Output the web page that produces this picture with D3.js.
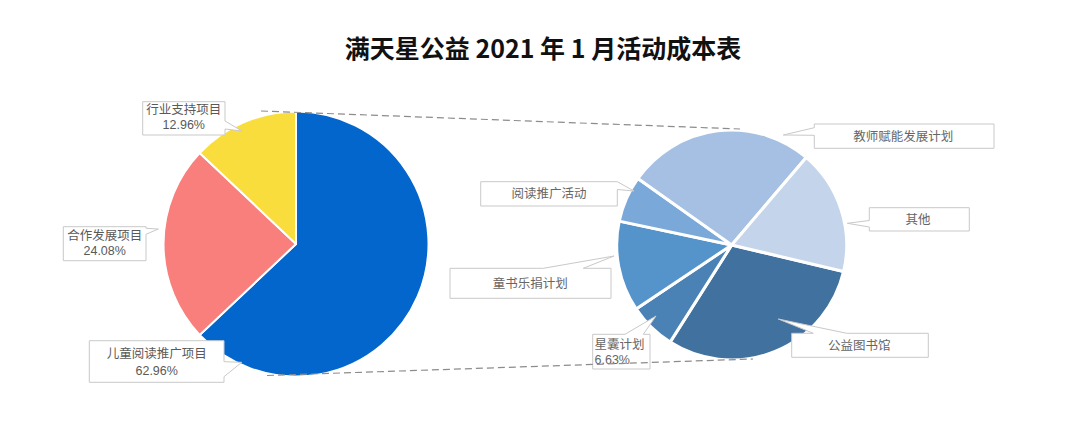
<!DOCTYPE html>
<html><head><meta charset="utf-8">
<script src="https://cdn.jsdelivr.net/npm/d3@7/dist/d3.min.js"></script>
<style>
body{margin:0;background:#fff;}
text{font-family:"Noto Sans CJK SC","Noto Sans",sans-serif;}
text.lbl{font-family:"Liberation Sans","Noto Sans CJK SC",sans-serif;}
</style></head>
<body>
<svg id="c" width="1075" height="426"></svg>
<script>
// ---- data ----
const title = '满天星公益 2021 年 1 月活动成本表';
const mainCategories = ['儿童阅读推广项目', '合作发展项目', '行业支持项目'];
const mainValues = [62.96, 24.08, 12.96];
const subCategories = ['公益图书馆', '星囊计划', '童书乐捐计划', '阅读推广活动', '教师赋能发展计划', '其他'];
const subValues = [30.3, 6.63, 12.7, 6.5, 26.4, 17.47];
const subShowPercent = ['星囊计划'];

// ---- styles / layout ----
const mainColors = ['#0366cd', '#f87f7c', '#f9dd3c'];
const subColors = ['#41719f', '#4a82b6', '#5594cb', '#7aa8d9', '#a5c0e3', '#c4d5eb'];
const mainPie = {cx: 296, cy: 244, r: 132.5, start: 0};
const subPie = {cx: 731.7, cy: 245, r: 115, start: 103.3};

const mainLabelLayout = {
  '行业支持项目': {box: [142.7, 101.7, 82.3, 33.3], side: 'right', base: [121, 129], tip: [242, 131], tx: 183.8, ty: [110, 125], anchor: 'middle'},
  '合作发展项目': {box: [63.3, 226.7, 82.7, 34], side: 'right', base: [228.3, 234.3], tip: [158.3, 229], tx: 104.7, ty: [235.7, 250.5], anchor: 'middle'},
  '儿童阅读推广项目': {box: [89.3, 340.7, 134.7, 41.6], side: 'right', base: [361.7, 376.7], tip: [241.7, 362.3], tx: 156.7, ty: [353.3, 370.7], anchor: 'middle'}
};
const subLabelLayout = {
  '阅读推广活动': {box: [480.7, 181.7, 136.6, 24.3], side: 'right', base: [181.7, 189.5], tip: [634, 191], tx: 549, ty: [194], anchor: 'middle'},
  '童书乐捐计划': {box: [450, 268.3, 161, 30], side: 'top', base: [543.3, 583.3], tip: [614, 256], tx: 530.3, ty: [283.3], anchor: 'middle'},
  '星囊计划': {box: [592.7, 334.3, 57.3, 34.7], side: 'top', base: [625, 643.3], tip: [656, 316], tx: 594.5, ty: [344.3, 360], anchor: 'start'},
  '公益图书馆': {box: [791.7, 333.3, 136.6, 24], side: 'top', base: [813.3, 846.7], tip: [778.3, 319], tx: 859.3, ty: [346], anchor: 'middle'},
  '其他': {box: [869.3, 207.7, 100, 23.3], side: 'left', base: [220.5, 227], tip: [847.3, 223.3], tx: 918, ty: [219.3], anchor: 'middle'},
  '教师赋能发展计划': {box: [814.3, 124, 179.7, 24.3], side: 'left', base: [127.7, 135.3], tip: [783.3, 135], tx: 903.3, ty: [136.7], anchor: 'middle'}
};
const connectors = [[[261, 111], [740, 129]], [[267, 375.5], [753, 359]]];

const svg = d3.select('#c');
const deg = Math.PI / 180;

function drawPie(cfg, cats, vals, colors, strokeW) {
  const pie = d3.pie().sort(null).value(d => d.v)
    .startAngle(cfg.start * deg).endAngle(cfg.start * deg + 2 * Math.PI);
  const arc = d3.arc().innerRadius(0).outerRadius(cfg.r);
  const data = cats.map((c, i) => ({c, v: vals[i], color: colors[i]}));
  svg.append('g').attr('transform', `translate(${cfg.cx},${cfg.cy})`)
    .selectAll('path').data(pie(data)).join('path')
    .attr('d', arc).attr('fill', d => d.data.color)
    .attr('stroke', '#fff').attr('stroke-width', strokeW).attr('stroke-linejoin', 'round');
}
drawPie(mainPie, mainCategories, mainValues, mainColors, 2);
drawPie(subPie, subCategories, subValues, subColors, 3);

function calloutPath(b, side, base, tip) {
  const x0 = b[0], y0 = b[1], x1 = b[0] + b[2], y1 = b[1] + b[3];
  const p = [[x0, y0]];
  if (side === 'top') p.push([base[0], y0], tip, [base[1], y0]);
  p.push([x1, y0]);
  if (side === 'right') p.push([x1, base[0]], tip, [x1, base[1]]);
  p.push([x1, y1]);
  if (side === 'bottom') p.push([base[1], y1], tip, [base[0], y1]);
  p.push([x0, y1]);
  if (side === 'left') p.push([x0, base[1]], tip, [x0, base[0]]);
  return 'M' + p.map(q => q.join(',')).join('L') + 'Z';
}

const pct = d3.format('.2%');
function drawLabels(cats, vals, layout, showPct, color, fs) {
  const total = d3.sum(vals);
  cats.forEach((c, i) => {
    const L = layout[c];
    const g = svg.append('g');
    g.append('path').attr('d', calloutPath(L.box, L.side, L.base, L.tip))
      .attr('fill', '#fff').attr('stroke', '#c9c9c9').attr('stroke-width', 1);
    const lines = showPct(c) ? [c, pct(vals[i] / total)] : [c];
    lines.forEach((s, j) => {
      g.append('text').attr('class', 'lbl').attr('x', L.tx).attr('y', L.ty[j]).attr('dy', '0.35em')
        .attr('text-anchor', L.anchor).attr('font-size', fs).attr('fill', color).text(s);
    });
  });
}
drawLabels(mainCategories, mainValues, mainLabelLayout, () => true, '#595959', 12.5);
drawLabels(subCategories, subValues, subLabelLayout, c => subShowPercent.includes(c), '#666', 12.5);

svg.selectAll('line.conn').data(connectors).join('line').attr('class', 'conn')
  .attr('x1', d => d[0][0]).attr('y1', d => d[0][1]).attr('x2', d => d[1][0]).attr('y2', d => d[1][1])
  .attr('stroke', '#8c8c8c').attr('stroke-width', 1.2).attr('stroke-dasharray', '7,4');

svg.append('text').attr('x', 543).attr('y', 49).attr('dy', '0.35em').attr('text-anchor', 'middle')
  .attr('font-size', 25).attr('font-weight', 'bold').attr('fill', '#111').text(title);
</script>
</body></html>
